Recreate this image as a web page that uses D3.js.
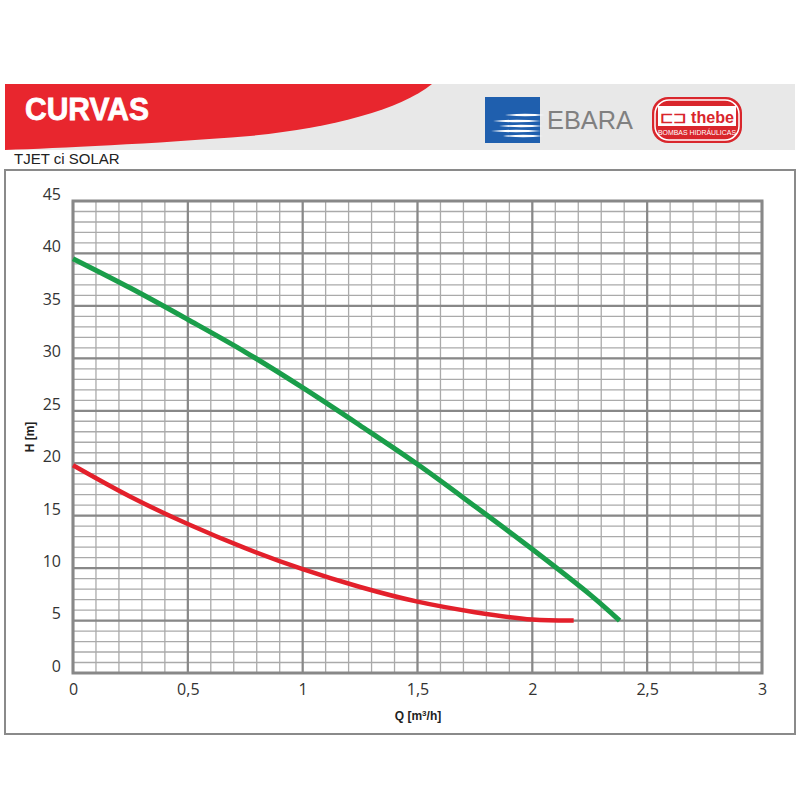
<!DOCTYPE html>
<html><head><meta charset="utf-8">
<script src="https://cdn.jsdelivr.net/npm/d3@7"></script>
<style>body{margin:0;background:#fff}svg{display:block}</style>
</head><body>
<svg id="c" width="800" height="800"></svg>
<script>
const title = "CURVAS";
const subtitle = "TJET ci SOLAR";
const xTicks = [0, 0.5, 1, 1.5, 2, 2.5, 3];
const xTickLabels = ["0", "0,5", "1", "1,5", "2", "2,5", "3"];
const yTicks = [0, 5, 10, 15, 20, 25, 30, 35, 40, 45];
const greenQ = [0, 0.25, 0.5, 0.75, 1, 1.25, 1.5, 1.75, 2, 2.25, 2.38];
const greenH = [39.5, 36.7, 33.7, 30.6, 27.2, 23.6, 19.9, 15.9, 11.8, 7.5, 5.0];
const redQ = [0, 0.25, 0.5, 0.75, 1, 1.25, 1.5, 1.75, 2, 2.18];
const redH = [19.8, 16.8, 14.2, 11.9, 9.9, 8.2, 6.8, 5.8, 5.1, 5.0];

const svg = d3.select("#c");
// header band
svg.append("rect").attr("x",5).attr("y",84).attr("width",790).attr("height",66).attr("fill","#e8e8e8");
svg.append("path").attr("d","M5,84 L432,84 C400,110 330,128 250,136 C150,144 60,148 5,150 Z").attr("fill","#e8262e");
svg.append("text").attr("x",25).attr("y",120).attr("fill","#fff").attr("font-family","Liberation Sans Narrow, Liberation Sans, Arial").attr("font-weight","bold").attr("font-size",32).attr("textLength",124).attr("lengthAdjust","spacingAndGlyphs").attr("stroke","#fff").attr("stroke-width",0.8).text(title);

// EBARA logo
const eb = svg.append("g");
eb.append("rect").attr("x",485).attr("y",97).attr("width",55).attr("height",46).attr("fill","#1f5fae");
[[115,20,40],[121,8,48],[126,14,44],[131,6,50],[136,18,40]].forEach(([y,x0,w])=>{
  eb.append("path").attr("d",`M${485+x0},${y} Q${485+x0+w/2},${y-2.5} ${485+x0+w},${y} Q${485+x0+w/2},${y+2.5} ${485+x0},${y}Z`).attr("fill","#fff");
});
eb.append("text").attr("x",547).attr("y",129).attr("fill","#808080").attr("font-family","Liberation Sans, Arial").attr("font-size",26).attr("textLength",86).attr("lengthAdjust","spacingAndGlyphs").text("EBARA");
// thebe logo
const th = svg.append("g");
th.append("rect").attr("x",652).attr("y",97).attr("width",90).attr("height",46).attr("rx",16).attr("fill","#d9262c");
th.append("rect").attr("x",655).attr("y",100).attr("width",84).attr("height",40).attr("rx",14).attr("fill","none").attr("stroke","#fff").attr("stroke-width",1.5);
th.append("rect").attr("x",658).attr("y",106).attr("width",78).attr("height",20).attr("fill","#fff");
th.append("text").attr("x",660).attr("y",123).attr("fill","#d9262c").attr("font-family","Liberation Sans, Arial").attr("font-weight","bold").attr("font-size",17).attr("textLength",74).attr("lengthAdjust","spacingAndGlyphs").text("⊏⊐ thebe");
th.append("text").attr("x",697).attr("y",135).attr("text-anchor","middle").attr("fill","#fff").attr("font-family","Liberation Sans, Arial").attr("font-size",7).attr("textLength",78).attr("lengthAdjust","spacingAndGlyphs").text("BOMBAS HIDRÁULICAS");

svg.append("text").attr("x",14).attr("y",164).attr("fill","#222").attr("font-family","Liberation Sans, Arial").attr("font-size",15).text(subtitle);

// outer box
svg.append("rect").attr("x",5).attr("y",170).attr("width",790).attr("height",564).attr("fill","#fff").attr("stroke","#8a8a8a").attr("stroke-width",2);

const x = d3.scaleLinear().domain([0,3]).range([73,762]);
const y = d3.scaleLinear().domain([0,45]).range([673,201]);
const g = svg.append("g");
d3.range(0,3.0001,0.1).forEach(v=>{
  g.append("line").attr("x1",x(v)).attr("x2",x(v)).attr("y1",y(0)).attr("y2",y(45)).attr("stroke","#aaa").attr("stroke-width",1.3);
});
d3.range(0,46,1).forEach(v=>{
  g.append("line").attr("x1",x(0)).attr("x2",x(3)).attr("y1",y(v)).attr("y2",y(v)).attr("stroke","#aaa").attr("stroke-width",1.3);
});
xTicks.forEach(v=>{
  g.append("line").attr("x1",x(v)).attr("x2",x(v)).attr("y1",y(0)).attr("y2",y(45)).attr("stroke","#888").attr("stroke-width",2.2);
});
yTicks.forEach(v=>{
  g.append("line").attr("x1",x(0)).attr("x2",x(3)).attr("y1",y(v)).attr("y2",y(v)).attr("stroke","#888").attr("stroke-width",2.2);
});
g.append("rect").attr("x",x(0)).attr("y",y(45)).attr("width",x(3)-x(0)).attr("height",y(0)-y(45)).attr("fill","none").attr("stroke","#888").attr("stroke-width",3);

const xa = svg.append("g").attr("transform",`translate(0,${y(0)+3})`).call(d3.axisBottom(x).tickValues(xTicks).tickSize(0).tickFormat((d,i)=>xTickLabels[i]));
xa.select(".domain").remove();
xa.selectAll("text").attr("font-family","Open Sans, Liberation Sans, Arial").attr("font-size",16).attr("fill","#333").attr("dy","1.0em");
const ya = svg.append("g").attr("transform",`translate(${x(0)-9},0)`).call(d3.axisLeft(y).tickValues(yTicks).tickSize(0));
ya.select(".domain").remove();
ya.selectAll("text").attr("font-family","Open Sans, Liberation Sans, Arial").attr("font-size",16).attr("fill","#333").attr("dy","-0.1em");

svg.append("text").attr("x",418).attr("y",720).attr("text-anchor","middle").attr("font-family","Liberation Sans, Arial").attr("font-weight","bold").attr("font-size",12).attr("fill","#222").html("Q [m<tspan dy='-4' font-size='8'>3</tspan><tspan dy='4'>/h]</tspan>");
svg.append("text").attr("transform","translate(34,437) rotate(-90)").attr("text-anchor","middle").attr("font-family","Liberation Sans, Arial").attr("font-weight","bold").attr("font-size",12).attr("fill","#222").text("H [m]");

const line = d3.line().x(d=>x(d[0])).y(d=>y(d[1])).curve(d3.curveCatmullRom);
svg.append("path").datum(greenQ.map((q,i)=>[q,greenH[i]])).attr("d",line).attr("fill","none").attr("stroke","#1a9e4a").attr("stroke-width",5);
svg.append("path").datum(redQ.map((q,i)=>[q,redH[i]])).attr("d",line).attr("fill","none").attr("stroke","#e3202b").attr("stroke-width",4.5);
</script>
</body></html>
